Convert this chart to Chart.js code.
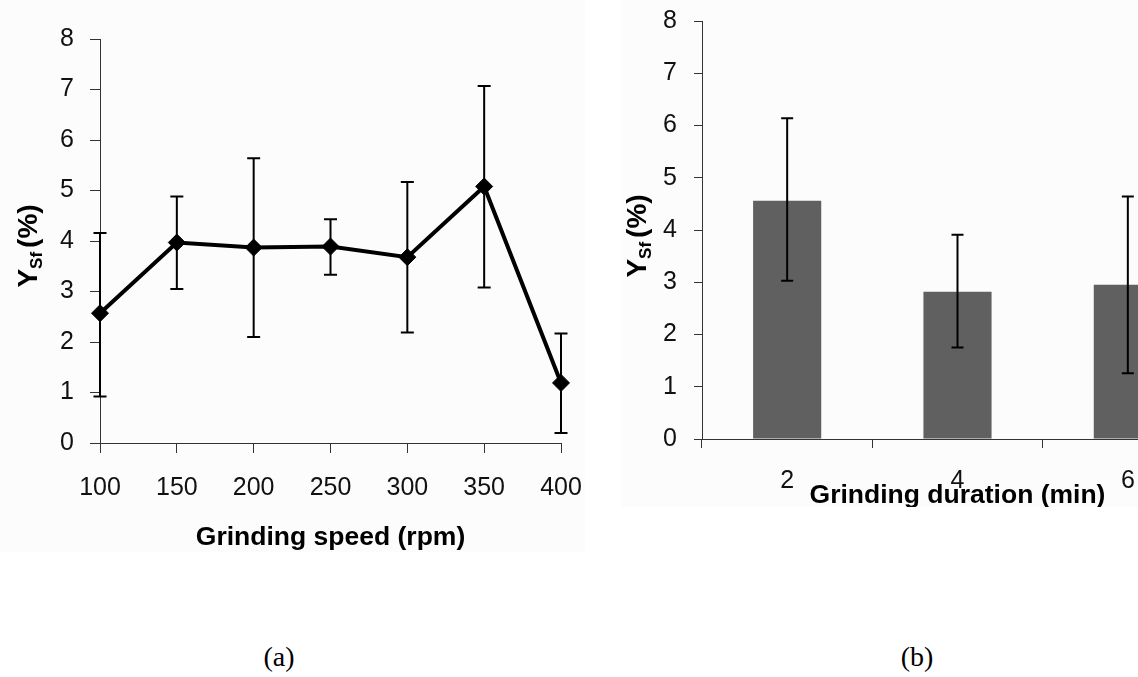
<!DOCTYPE html>
<html>
<head>
<meta charset="utf-8">
<script src="https://cdn.jsdelivr.net/npm/chart.js@4.4.1/dist/chart.umd.min.js"></script>
<style>
  html, body { margin: 0; padding: 0; background: #fff; }
  #page { position: relative; width: 1138px; height: 677px; overflow: hidden; background: #fff; }
  #speedChart { position: absolute; left: 0; top: 0; background: #fcfcfc; }
  #durationChart { position: absolute; left: 622px; top: 0; background: #fcfcfc; }
  .caption { position: absolute; top: 643px; font-family: "Liberation Serif", "Times New Roman", serif;
             font-size: 28px; line-height: 28px; color: #000; transform: translateX(-50%); }
</style>
</head>
<body>
<div id="page">
  <canvas id="speedChart" width="585" height="552"></canvas>
  <canvas id="durationChart" width="620" height="507"></canvas>
  <div class="caption" style="left:279px">(a)</div>
  <div class="caption" style="left:917px">(b)</div>
</div>
<script>
// (a) yield vs grinding speed
const speeds = [100, 150, 200, 250, 300, 350, 400];
const yieldBySpeed = [2.57, 3.97, 3.87, 3.89, 3.68, 5.08, 1.19];
const speedErrHigh = [4.16, 4.88, 5.64, 4.43, 5.17, 7.07, 2.17];
const speedErrLow = [0.92, 3.05, 2.10, 3.33, 2.19, 3.08, 0.20];

// (b) yield vs grinding duration
const durations = ['2', '4', '6'];
const yieldByDuration = [4.56, 2.82, 2.95];
const durationErrHigh = [6.14, 3.91, 4.64];
const durationErrLow = [3.03, 1.75, 1.26];

const yMin = 0, yMax = 8, yStep = 1;
const speedMin = 100, speedMax = 400, speedStep = 50;

const SANS = '"Liberation Sans", Arial, Helvetica, sans-serif';
const AXIS_COLOR = '#333';
const TICK_COLOR = '#111';

// Vertical error bars with caps, placed through the chart's own scales
function errorBars(id, hook, xValues, lows, highs, capHalf, byIndex) {
  return {
    id,
    [hook](chart) {
      const { ctx, scales: { x, y } } = chart;
      ctx.save();
      ctx.strokeStyle = '#000';
      ctx.lineWidth = 2;
      xValues.forEach((v, i) => {
        const px = x.getPixelForValue(byIndex ? i : v);
        const top = y.getPixelForValue(highs[i]);
        const bot = y.getPixelForValue(lows[i]);
        ctx.beginPath();
        ctx.moveTo(px, top); ctx.lineTo(px, bot);
        ctx.moveTo(px - capHalf, top); ctx.lineTo(px + capHalf, top);
        ctx.moveTo(px - capHalf, bot); ctx.lineTo(px + capHalf, bot);
        ctx.stroke();
      });
      ctx.restore();
    }
  };
}

// Axis titles: bold x title and a rotated "Y_Sf (%)" title with subscript
function axisTitles(xTitle, xBaseline, yBaseX, yCenter) {
  return {
    id: 'axisTitles',
    afterDraw(chart) {
      const { ctx, chartArea } = chart;
      const big = 'bold 28px ' + SANS;
      const small = 'bold 17px ' + SANS;
      ctx.save();
      ctx.fillStyle = '#000';
      ctx.font = 'bold 26.5px ' + SANS;
      ctx.textAlign = 'center';
      ctx.textBaseline = 'alphabetic';
      ctx.fillText(xTitle, (chartArea.left + chartArea.right) / 2, xBaseline);

      ctx.font = big;
      const wY = ctx.measureText('Y').width;
      const wR = ctx.measureText('(%)').width;
      ctx.font = small;
      const wS = ctx.measureText('Sf').width;
      const gap = 4;
      const total = wY + wS + gap + wR;
      ctx.translate(yBaseX, yCenter);
      ctx.rotate(-Math.PI / 2);
      ctx.textAlign = 'left';
      const x0 = -total / 2;
      ctx.font = big;   ctx.fillText('Y', x0, 0);
      ctx.font = small; ctx.fillText('Sf', x0 + wY, 5);
      ctx.font = big;   ctx.fillText('(%)', x0 + wY + wS + gap, 0);
      ctx.restore();
    }
  };
}

function axisStyle(tickLength) {
  return {
    grid: { drawOnChartArea: false, drawTicks: true, tickLength, color: AXIS_COLOR, lineWidth: 1 },
    border: { display: true, color: AXIS_COLOR, width: 1 }
  };
}

// fixed scale boxes so the plot area sits where the layout wants it
function fixBox(size) {
  return function (s) {
    if (s.isHorizontal()) s.height = size; else s.width = size;
    s.paddingLeft = 0; s.paddingRight = 0; s.paddingTop = 0; s.paddingBottom = 0;
  };
}

const common = {
  responsive: false,
  animation: false,
  devicePixelRatio: 1,
  plugins: { legend: { display: false }, tooltip: { enabled: false } }
};

new Chart(document.getElementById('speedChart'), {
  type: 'line',
  data: {
    datasets: [{
      data: speeds.map((s, i) => ({ x: s, y: yieldBySpeed[i] })),
      borderColor: '#000',
      borderWidth: 4,
      backgroundColor: '#000',
      pointStyle: 'rectRot',
      pointRadius: 8.5,
      pointBorderWidth: 1,
      pointBackgroundColor: '#000',
      pointBorderColor: '#000',
      tension: 0,
      clip: false
    }]
  },
  options: {
    ...common,
    layout: { padding: { top: 39, right: 24, left: 0, bottom: 0 } },
    scales: {
      x: {
        type: 'linear', min: speedMin, max: speedMax,
        afterFit: fixBox(109),
        ticks: { stepSize: speedStep, font: { family: SANS, size: 25 }, color: TICK_COLOR,
                 padding: 20, maxRotation: 0, autoSkip: false },
        ...axisStyle(10)
      },
      y: {
        min: yMin, max: yMax,
        afterFit: fixBox(100),
        ticks: { stepSize: yStep, font: { family: SANS, size: 25 }, color: TICK_COLOR, padding: 16 },
        ...axisStyle(10)
      }
    }
  },
  plugins: [
    errorBars('speedErrors', 'beforeDatasetsDraw', speeds, speedErrLow, speedErrHigh, 6.5, false),
    axisTitles('Grinding speed (rpm)', 545, 37, 246)
  ]
});

new Chart(document.getElementById('durationChart'), {
  type: 'bar',
  data: {
    labels: durations,
    datasets: [{
      data: yieldByDuration,
      backgroundColor: '#606060',
      borderWidth: 0,
      barPercentage: 0.4,
      categoryPercentage: 1.0
    }]
  },
  options: {
    ...common,
    layout: { padding: { top: 21, right: 29, left: 0, bottom: 0 } },
    scales: {
      x: {
        type: 'category', offset: true,
        afterFit: fixBox(68),
        ticks: { font: { family: SANS, size: 25 }, color: TICK_COLOR, padding: 18, maxRotation: 0 },
        grid: { offset: true, drawOnChartArea: false, drawTicks: true, tickLength: 9, color: AXIS_COLOR, lineWidth: 1 },
        border: { display: true, color: AXIS_COLOR, width: 1 }
      },
      y: {
        min: yMin, max: yMax,
        afterFit: fixBox(80),
        ticks: { stepSize: yStep, font: { family: SANS, size: 25 }, color: TICK_COLOR, padding: 17 },
        ...axisStyle(8)
      }
    }
  },
  plugins: [
    errorBars('durationErrors', 'afterDatasetsDraw', durations, durationErrLow, durationErrHigh, 6, true),
    axisTitles('Grinding duration (min)', 503, 24, 236)
  ]
});
</script>
</body>
</html>
